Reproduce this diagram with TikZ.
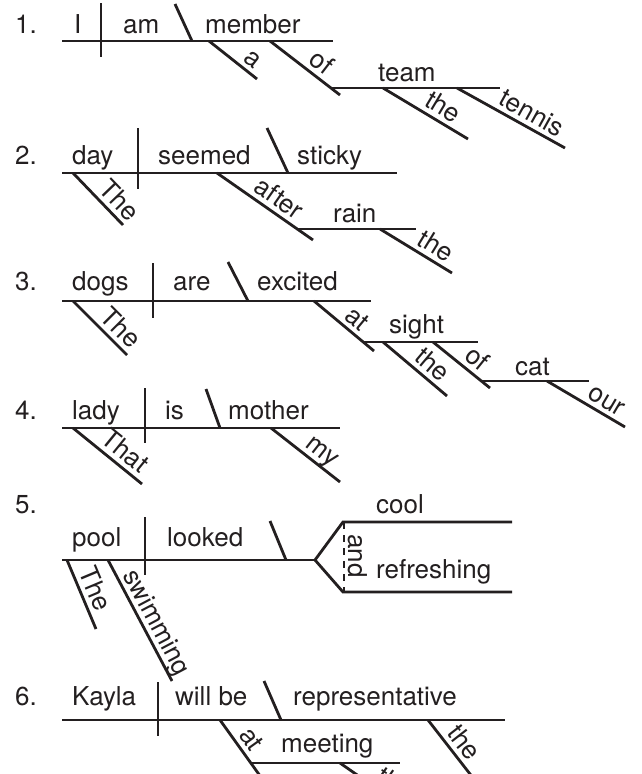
\documentclass[tikz,border=0pt]{standalone}
\usepackage{fontspec}
\setmainfont{TeX Gyre Heros}
\definecolor{ink}{RGB}{35,31,32}
\begin{document}
\begin{tikzpicture}[x=1pt,y=-1pt,
  ln/.style={line width=2.8pt, draw=ink, line cap=butt},
  dsh/.style={line width=1.4pt, draw=ink, dash pattern=on 7pt off 6pt},
  wd/.style={anchor=base west, inner sep=0pt, font=\fontsize{26}{30}\selectfont, text=ink},
  dl/.style={sloped, above, inner sep=4.5pt, text depth=0pt, font=\fontsize{26}{30}\selectfont, text=ink}]
\useasboundingbox (0,0) rectangle (641,774);
\clip (0,0) rectangle (641,774);
% ---------- 1 ----------
\node[wd] (n1) at (15,33) {1.};
\node[wd] (s1) at (74,33) {I};
\node[wd] (v1) at (123,33) {am};
\node[wd] (c1) at (205,33) {member};
\draw[ln] (62,41) -- (333,41);
\draw[ln] (101,3) -- (101,57);
\draw[ln] (175,4) -- (192,41);
\draw[ln] (209,41) -- (257,79) node[dl,pos=0.74] (m1a) {a};
\draw[ln] (270,41) -- (340,95) node[dl,pos=0.61] (m1b) {of};
\draw[ln] (332,88) -- (500,88);
\node[wd] (o1) at (378,81) {team};
\draw[ln] (383,88) -- (468,139) node[dl,pos=0.62] (m1c) {the};
\draw[ln] (457,88) -- (565,148) node[dl,pos=0.63] (m1d) {tennis};
% ---------- 2 ----------
\node[wd] (n2) at (15,164) {2.};
\node[wd] (s2) at (72,164) {day};
\node[wd] (v2) at (158,164) {seemed};
\node[wd] (c2) at (297,164) {sticky};
\draw[ln] (62,173) -- (397,173);
\draw[ln] (138,128) -- (138,189);
\draw[ln] (267,128) -- (288,173);
\draw[ln] (73,173) -- (123,225) node[dl,pos=0.72] (m2a) {The};
\draw[ln] (217,173) -- (313,240) node[dl,pos=0.56] (m2b) {after};
\draw[ln] (297,229) -- (416,229);
\node[wd] (o2) at (333,222) {rain};
\draw[ln] (380,229) -- (452,273) node[dl,pos=0.67] (m2c) {the};
% ---------- 3 ----------
\node[wd] (n3) at (15,290) {3.};
\node[wd] (s3) at (72,290) {dogs};
\node[wd] (v3) at (173,290) {are};
\node[wd] (c3) at (257,290) {excited};
\draw[ln] (62,301) -- (371,301);
\draw[ln] (153,263) -- (153,318);
\draw[ln] (228,262) -- (248,301);
\draw[ln] (73,301) -- (127,355) node[dl,pos=0.69] (m3a) {The};
\draw[ln] (314,301) -- (374,351) node[dl,pos=0.57] (m3b) {at};
\draw[ln] (363,342) -- (478,342);
\node[wd] (o3) at (389,333) {sight};
\draw[ln] (383,342) -- (447,396) node[dl,pos=0.63] (m3c) {the};
\draw[ln] (433,342) -- (490,388) node[dl,pos=0.61] (m3d) {of};
\draw[ln] (482,381) -- (589,381);
\node[wd] (o3b) at (515,375) {cat};
\draw[ln] (547,381) -- (625,427) node[dl,pos=0.68] (m3e) {our};
% ---------- 4 ----------
\node[wd] (n4) at (15,419) {4.};
\node[wd] (s4) at (72,419) {lady};
\node[wd] (v4) at (165,419) {is};
\node[wd] (c4) at (228,419) {mother};
\draw[ln] (62,428) -- (340,428);
\draw[ln] (145,388) -- (145,443);
\draw[ln] (206,389) -- (220,428);
\draw[ln] (73,428) -- (142,484) node[dl,pos=0.62] (m4a) {That};
\draw[ln] (271,428) -- (340,482) node[dl,pos=0.63] (m4b) {my};
% ---------- 5 ----------
\node[wd] (n5) at (15,513) {5.};
\node[wd] (s5) at (72,546) {pool};
\node[wd] (v5) at (167,546) {looked};
\draw[ln] (62,560) -- (315,560);
\draw[ln] (145,517) -- (145,575);
\draw[ln] (270,521) -- (286,560);
\draw[ln, line join=miter] (512,522) -- (343,522) -- (315,560) -- (343,592) -- (512,592);
\draw[dsh] (344,522) -- (344,592);
\node[wd] (c5a) at (376,513) {cool};
\node[wd] (c5b) at (376,578) {refreshing};
\node[rotate=-90, inner sep=0pt, font=\fontsize{26}{30}\selectfont, text=ink] (cj5) at (358,556) {and};
\draw[ln] (67,560) -- (96,629) node[dl,pos=0.5] (m5a) {The};
\draw[ln] (108,560) -- (172,681) node[dl,pos=0.57] (m5b) {swimming};
% ---------- 6 ----------
\node[wd] (n6) at (15,705) {6.};
\node[wd] (s6) at (72,705) {Kayla};
\node[wd] (v6) at (175,705) {will be};
\node[wd] (c6) at (293,705) {representative};
\draw[ln] (62,720) -- (505,720);
\draw[ln] (158,682) -- (158,736);
\draw[ln] (264,681) -- (281,720);
\draw[ln] (220,720) -- (266.6,785) node[dl,pos=0.42] (m6a) {at};
\draw[ln] (252,763) -- (400,763);
\node[wd] (o6) at (281,752) {meeting};
\draw[ln] (428,720) -- (477,783) node[dl,pos=0.5] (m6b) {the};
\draw[ln] (340,763) -- (406,809) node[dl,pos=0.7] (m6c) {the};
\end{tikzpicture}
\end{document}
